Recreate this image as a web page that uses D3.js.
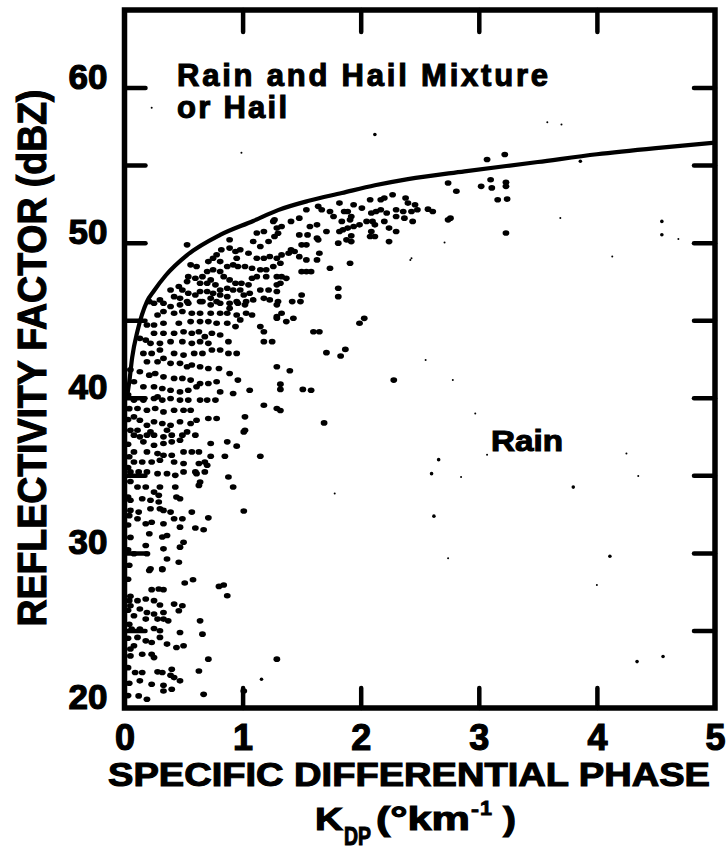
<!DOCTYPE html>
<html><head><meta charset="utf-8">
<script src="https://cdn.jsdelivr.net/npm/d3@7"></script>
<style>body{margin:0;background:#fff}svg{display:block}</style>
</head><body>
<svg id="c" width="726" height="851"></svg>
<script>
// ---- data ----
const xTickValues = [0, 1, 2, 3, 4, 5];
const yTickValues = [20, 25, 30, 35, 40, 45, 50, 55, 60, 65];
const yLabelValues = [20, 30, 40, 50, 60];
const curveKdp = [0.02,0.04,0.065,0.11,0.19,0.25,0.35,0.53,0.81,1.09,1.30,1.56,1.84,2.12,2.40,2.88,3.50,4.00,4.50,5.00];
const curveZ   = [40.0,41.0,42.6,44.3,46.2,46.9,47.9,49.2,50.5,51.4,52.1,52.7,53.2,53.7,54.1,54.6,55.2,55.7,56.1,56.45];

// observations [KDP, Z]
const dotsUpper = [
[1.54,52.12],[1.48,51.58],[1.41,51.37],[1.64,52.34],[1.67,52.12],[1.74,52.01],[1.77,51.69],[1.82,52.55],[1.86,52.01],[1.89,52.01],[1.94,52.44],[2.01,52.23],[2.08,52.77],[2.17,52.77],[2.20,52.88],[2.27,53.09],[2.38,52.88],[2.40,52.55],[2.46,52.44],[2.48,52.12],[2.57,52.16],[2.61,52.01],[2.74,53.85],[2.81,53.31],[2.74,51.47],[2.76,51.58],[2.43,52.01],[2.44,51.37],[2.36,52.01],[2.37,51.58],[2.30,52.12],[2.30,51.69],[2.22,51.91],[2.17,52.12],[2.13,52.01],[2.09,51.91],[2.05,51.37],[2.10,51.37],[2.12,51.15],[2.20,51.37],[2.24,50.94],[2.30,50.72],[2.24,50.07],[2.09,50.72],[2.08,50.40],[2.12,50.40],[1.99,51.15],[1.94,51.04],[1.89,50.94],[1.85,50.83],[1.82,50.72],[1.91,51.47],[1.92,51.69],[1.84,51.37],[1.71,50.72],[1.63,51.15],[1.57,51.04],[1.55,50.50],[1.48,50.50],[1.63,50.29],[1.64,50.18],[1.81,49.97],[1.88,50.18],[1.92,50.07],[1.92,50.44],[1.50,49.86],[1.54,49.86],[1.41,49.54],[1.44,49.43],[1.39,49.32],[1.33,49.21],[1.48,49.10],[1.54,48.89],[1.63,48.89],[1.65,49.32],[1.32,48.67],[1.74,48.35],[1.91,48.67],[1.50,48.13],[1.54,48.13],[1.58,48.13],[1.33,47.81],[1.37,47.70],[1.32,47.38],[1.81,47.06],[1.81,46.52],[1.50,46.63],[1.33,51.04],[1.30,50.61],[1.27,51.47],
[3.02,53.63],[3.10,54.06],[3.11,53.53],[3.23,53.89],[3.23,53.63],[3.16,52.77],[3.24,52.81],[3.07,55.36],[3.22,55.68],[3.23,50.62],[2.03,45.12],[2.28,41.14],
[1.42,46.20],[1.49,46.20],[1.33,45.45],[1.29,45.13],[1.37,44.91],[1.43,45.13],[1.60,44.26],[1.65,44.26],[1.99,44.80],[1.87,43.12],
[1.40,41.74],[1.32,40.88],[1.32,40.54],[1.51,40.54],[1.58,40.49],[1.71,42.91],[1.83,42.69],[1.32,39.18],[1.69,38.38]
];
const dotsMiddle = [
[0.53,49.86],[0.89,50.19],[1.12,50.62],[1.18,50.72],[1.26,51.37],[1.29,50.94],[1.27,50.40],[1.22,50.08],[1.15,49.75],[1.09,50.08],[1.05,49.32],[0.98,49.54],[0.94,49.43],[0.89,49.65],[0.95,49.00],[0.82,49.54],[0.78,49.22],[0.75,49.00],[0.71,48.78],[0.81,48.78],[0.87,48.46],[0.92,48.57],[0.96,48.46],[1.02,48.46],[1.08,48.35],[1.12,49.00],[1.18,49.00],[1.23,49.11],[1.29,49.00],[1.26,48.46],[1.20,48.25],[1.15,48.25],[1.29,47.81],[1.29,47.28],[1.20,47.81],[1.12,47.81],[1.08,47.71],[1.05,47.28],[0.99,47.38],[0.94,47.38],[0.89,47.60],[0.84,47.81],[0.81,48.14],[0.75,48.25],[0.70,48.14],[0.66,47.81],[0.61,48.46],[0.56,48.57],[0.54,47.81],[0.53,47.49],[0.60,47.71],[0.64,47.38],[0.70,47.38],[0.73,47.60],[0.77,47.28],[0.81,46.95],[0.87,47.06],[0.92,46.95],[0.98,46.95],[1.01,46.63],[1.06,46.74],[1.15,46.95],[1.22,46.95],[1.29,46.85],[1.30,46.20],[1.23,46.31],[1.18,46.41],[1.09,46.31],[1.03,46.20],[0.95,46.20],[0.87,46.52],[0.81,46.63],[0.75,46.74],[0.70,46.85],[0.64,46.85],[0.60,46.63],[0.54,46.74],[0.49,46.95],[0.46,47.17],[0.39,46.95],[0.42,46.52],[0.47,46.41],[0.30,46.31],[0.21,46.20],[0.33,46.09],[0.53,46.20],[0.66,46.20],[0.78,46.20],[0.89,46.09],[0.73,46.41],
[0.25,46.09],[0.39,45.88],[0.47,45.99],[0.54,46.09],[0.64,46.20],[0.73,45.99],[0.81,46.09],[0.89,45.77],[0.96,46.09],[1.02,45.99],[1.08,45.34],[1.03,45.45],[0.95,45.34],[0.87,45.45],[0.81,45.45],[0.73,45.45],[0.64,45.45],[0.57,45.45],[0.49,45.56],[0.42,45.45],[0.33,45.56],[0.28,45.34],[1.29,45.99],[1.29,45.23],
[0.19,44.69],[0.25,44.69],[0.33,44.80],[0.46,44.80],[0.56,44.91],[0.64,44.91],[0.71,44.91],[0.78,44.80],[0.87,44.80],[0.94,44.59],[0.98,45.02],[1.15,44.59],[1.18,44.26],[0.25,44.16],[0.33,44.16],[0.42,44.16],[0.50,44.26],[0.57,44.16],[0.63,44.26],[0.68,43.94],[0.74,44.16],[0.81,44.05],[0.88,43.62],[0.71,43.51],[0.64,43.62],[0.57,43.51],[0.49,43.62],[0.39,43.62],[0.30,43.51],[0.22,43.51],[0.18,43.72],[0.13,43.83],[1.18,43.62],[1.25,43.62],
[0.16,42.86],[0.23,42.86],[0.30,43.08],[0.42,42.86],[0.50,42.75],[0.59,42.86],[0.66,42.86],[0.74,43.08],[0.81,43.08],[0.88,42.86],[0.95,42.86],[0.19,42.32],[0.28,42.32],[0.33,42.54],[0.39,42.22],[0.47,42.22],[0.53,42.00],[0.57,42.11],[0.64,42.00],[0.71,41.89],[0.80,41.89],[0.89,41.57],[1.29,42.00],
[0.13,41.68],[0.21,41.46],[0.26,41.57],[0.33,41.35],[0.42,41.25],[0.49,41.25],[0.56,41.14],[0.64,40.92],[0.71,40.92],[0.78,41.03],[0.96,41.14],[1.06,40.49],[0.16,40.71],[0.25,40.71],[0.32,40.60],[0.39,40.49],[0.47,40.38],[0.54,40.49],[0.61,40.71],[0.81,40.38],[0.92,40.28],[0.08,41.03],
[0.08,39.85],[0.16,39.85],[0.25,39.95],[0.32,39.85],[0.39,39.95],[0.47,39.85],[0.54,39.85],[0.64,39.85],[0.70,39.85],[0.77,39.85],[0.28,40.06],[1.18,39.52],[1.29,39.31],[0.11,39.31],[0.19,39.20],[0.26,39.31],[0.33,39.09],[0.42,39.20],[0.50,39.20],[0.56,39.20],
[0.08,38.77],[0.13,38.55],[0.19,38.23],[0.25,38.45],[0.32,38.34],[0.39,38.23],[0.47,38.45],[0.56,38.34],[0.61,38.55],[0.71,38.66],[0.78,38.66],[1.02,38.77],[0.11,37.91],[0.22,37.80],[0.36,37.91],[0.53,37.80],[1.02,37.91]
];
const dotsLower = [
[0.08,37.59],[0.13,37.48],[0.19,37.59],[0.25,37.59],[0.33,37.48],[0.40,37.59],[0.49,37.59],[0.60,37.59],[1.01,37.80],[0.16,37.16],[0.25,36.94],[0.33,37.05],[0.40,37.16],[0.47,37.26],[0.73,37.05],[0.87,37.16],[0.95,36.88],[0.08,36.51],[0.19,36.51],[0.28,36.40],[0.33,36.29],[0.40,36.29],[0.50,36.51],[0.57,36.51],[0.63,36.51],[0.73,36.23],[0.85,36.23],[1.15,36.23],[0.08,35.86],[0.15,35.86],[0.23,35.86],[0.30,35.97],[0.42,35.86],[0.50,35.76],[0.63,35.76],[0.68,35.86],[0.70,35.65],[0.05,35.22],[0.12,35.22],[0.19,35.22],[0.28,35.11],[0.36,35.11],[0.43,35.00],[0.50,35.22],[0.60,35.22],[0.61,35.11],[0.68,35.22],[0.88,34.89],[0.11,34.25],[0.18,34.25],[0.25,33.92],[0.30,34.25],[0.43,34.25],[0.64,34.57],[0.63,34.35],[0.92,34.25],[0.05,33.39],[0.15,33.49],[0.22,33.39],[0.29,33.71],[0.29,33.28],[0.44,33.60],[0.47,33.49],[0.05,32.74],[0.12,32.63],[0.22,32.85],[0.30,32.85],[0.33,32.74],[0.39,32.63],[0.57,32.63],[1.01,32.70],[0.11,32.20],[0.18,31.88],[0.23,31.98],[0.42,32.20],[0.49,32.20],[0.33,31.88],[0.47,31.66],[0.60,31.60],[0.67,31.49],[0.71,32.26],[0.21,31.23],[0.32,31.02],[0.36,31.12],[0.50,30.69],[0.18,30.48],[0.33,30.26],[0.47,30.37],[0.08,29.94],[0.19,29.94],[0.36,29.61],[0.46,29.40],[0.22,28.97],[0.32,28.97],
[0.21,28.86],[0.32,28.92],[0.51,28.06],[0.58,28.27],[0.80,27.84],[0.84,27.93],[0.87,27.24],[0.23,27.63],[0.29,27.67],[0.33,27.63],[0.04,26.92],[0.11,26.92],[0.18,27.03],[0.25,26.92],[0.30,26.64],[0.42,26.70],[0.49,26.59],[0.05,26.59],[0.13,26.38],[0.19,26.16],[0.25,26.06],[0.33,26.16],[0.46,26.27],[0.08,25.95],[0.18,25.73],[0.28,25.73],[0.33,25.73],[0.37,25.62],[0.64,25.62],[0.06,25.09],[0.13,25.09],[0.25,25.13],[0.30,24.98],[0.47,24.87],[0.66,24.76],[0.11,24.55],[0.18,24.33],[0.30,24.55],[0.23,24.22],[0.36,24.12],[0.44,23.90],[0.50,24.01],[0.08,24.01],[0.05,23.36],[0.15,23.47],[0.23,23.47],[0.25,23.25],[0.71,23.15],[1.29,23.15],[0.09,22.29],[0.15,22.29],[0.28,22.33],[0.32,22.29],[0.40,22.50],[0.39,22.11],[0.42,21.96],[0.63,22.39],[0.13,21.75],[0.23,21.53],[0.33,21.47],[0.47,21.75],[0.12,20.78],[0.19,20.56],[0.33,21.10],[0.40,21.21],[0.67,20.88],[1.01,21.10]
];
const dotsAxis = [
[0.03,20.8],[0.04,21.6],[0.03,22.6],[0.05,23.8],[0.03,24.5],[0.04,25.4],[0.03,26.3],[0.05,27.2],[0.03,28.3],[0.04,29.2],[0.03,30.2],[0.05,31.0],[0.03,31.8],[0.04,32.4],[0.03,33.6],[0.05,34.6],[0.03,35.5],[0.04,36.2],[0.03,37.0],[0.05,37.9],[0.03,38.6],[0.04,39.3],[0.03,40.2],[0.05,41.8]
];
const smallDots = [
[2.12,56.97],[4.55,51.37],[4.55,50.51],[2.66,36.01],[2.60,35.11],[2.62,32.37],[3.80,34.24],[4.11,29.78],[4.34,22.99],[4.56,23.32],[1.16,21.85],[3.86,55.25]
];
const specks = [
[3.58,57.77],[3.70,57.62],[2.97,38.98],[2.55,42.43],[2.78,41.14],[4.13,49.11],[2.71,50.01],[3.69,51.59],[4.69,50.23],[2.42,48.89],[2.43,49.00],[2.85,34.89],[3.07,36.33],[4.25,36.40],[4.35,34.95],[2.74,29.65],[4.00,27.93],[1.78,33.83],[0.99,55.8],[0.23,58.7]
];

// ---- drawing ----
const svg = d3.select("#c");
svg.append("rect").attr("width",726).attr("height",851).attr("fill","#fff");
const x = d3.scaleLinear().domain([0,5]).range([124.5,715]);
const y = d3.scaleLinear().domain([20,65]).range([708,10]);
const font = "'Liberation Sans', Arial, Helvetica, sans-serif";

// dots
const allDots = dotsUpper.concat(dotsMiddle, dotsLower, dotsAxis);
svg.append("g").selectAll("ellipse").data(allDots).join("ellipse")
  .attr("cx", d => x(d[0])).attr("cy", d => y(d[1]))
  .attr("rx", 3.4).attr("ry", 2.8).attr("fill", "#000");
svg.append("g").selectAll("circle").data(smallDots).join("circle")
  .attr("cx", d => x(d[0])).attr("cy", d => y(d[1])).attr("r", 1.8).attr("fill","#000");
svg.append("g").selectAll("circle").data(specks).join("circle")
  .attr("cx", d => x(d[0])).attr("cy", d => y(d[1])).attr("r", 1.0).attr("fill","#000");

// boundary curve
const line = d3.line().x(d => x(d[0])).y(d => y(d[1])).curve(d3.curveMonotoneX);
svg.append("path").datum(curveKdp.map((k,i)=>[k,curveZ[i]]))
  .attr("d", line).attr("fill","none").attr("stroke","#000").attr("stroke-width",4.2).attr("stroke-linecap","round");

// axes
function styleAxis(g){
  g.select(".domain").remove();
  g.selectAll(".tick line").attr("stroke","#000").attr("stroke-width",4.5).attr("stroke-linecap","round");
  g.selectAll("text").attr("fill","#000").attr("font-family",font).attr("font-weight","bold")
    .attr("stroke","#000").attr("stroke-width",1.2);
}
const inner = d => d>0 && d<5;
const innerY = d => d>20 && d<65;

const gB = svg.append("g").attr("transform","translate(0,708)")
  .call(d3.axisBottom(x).tickValues(xTickValues).tickSizeInner(-20).tickSizeOuter(0).tickPadding(0).tickFormat(d3.format("d")));
styleAxis(gB);
gB.selectAll(".tick line").attr("display", d => inner(d) ? null : "none");
gB.selectAll("text").attr("font-size",36).attr("y",42).attr("dy",0);

const gT = svg.append("g").attr("transform","translate(0,10)")
  .call(d3.axisTop(x).tickValues(xTickValues.filter(inner)).tickSizeInner(-22).tickSizeOuter(0).tickFormat(""));
styleAxis(gT);

const gL = svg.append("g").attr("transform","translate(124.5,0)")
  .call(d3.axisLeft(y).tickValues(yTickValues).tickSizeInner(-21).tickSizeOuter(0).tickPadding(17)
    .tickFormat(d => yLabelValues.includes(d) ? d : ""));
styleAxis(gL);
gL.selectAll(".tick line").attr("display", d => innerY(d) ? null : "none");
gL.selectAll("text").attr("font-size",35).attr("dy","0.02em");

const gR = svg.append("g").attr("transform","translate(715,0)")
  .call(d3.axisRight(y).tickValues(yTickValues.filter(innerY)).tickSizeInner(-21).tickSizeOuter(0).tickFormat(""));
styleAxis(gR);

// frame
svg.append("rect").attr("x",x(0)).attr("y",y(65)).attr("width",x(5)-x(0)).attr("height",y(20)-y(65))
  .attr("fill","none").attr("stroke","#000").attr("stroke-width",5.5);

// texts
function txt(s, px, py, size, opts={}){
  const t = svg.append("text").attr("x",px).attr("y",py).text(s)
    .attr("font-family",font).attr("font-weight","bold").attr("font-size",size).attr("fill","#000")
    .attr("stroke","#000").attr("stroke-width",opts.sw==null?1.1:opts.sw);
  if(opts.anchor) t.attr("text-anchor",opts.anchor);
  if(opts.len){ t.attr("textLength",opts.len).attr("lengthAdjust",opts.adj||"spacingAndGlyphs"); }
  if(opts.transform) t.attr("transform",opts.transform);
  return t;
}
txt("Rain and Hail Mixture", 177, 86, 31, {len:371, adj:"spacing"});
txt("or Hail", 177, 118, 31, {len:110, adj:"spacing"});
txt("Rain", 491, 451, 30, {len:72});

txt("SPECIFIC DIFFERENTIAL PHASE", 108, 786, 33, {len:602});
txt("K", 315, 830, 31, {len:28});
txt("DP", 344, 845, 26, {len:27});
txt("(°km", 376, 830, 33, {len:94});
txt("-", 471, 816, 20, {len:8, sw:0.8});
txt("1", 480, 815, 20, {len:12, sw:0.8});
txt(")", 503, 830, 33, {len:13});

txt("REFLECTIVITY FACTOR (dBZ)", 0, 0, 40, {anchor:"middle", len:537, transform:"translate(46,358) rotate(-90)"});
</script>
</body></html>
